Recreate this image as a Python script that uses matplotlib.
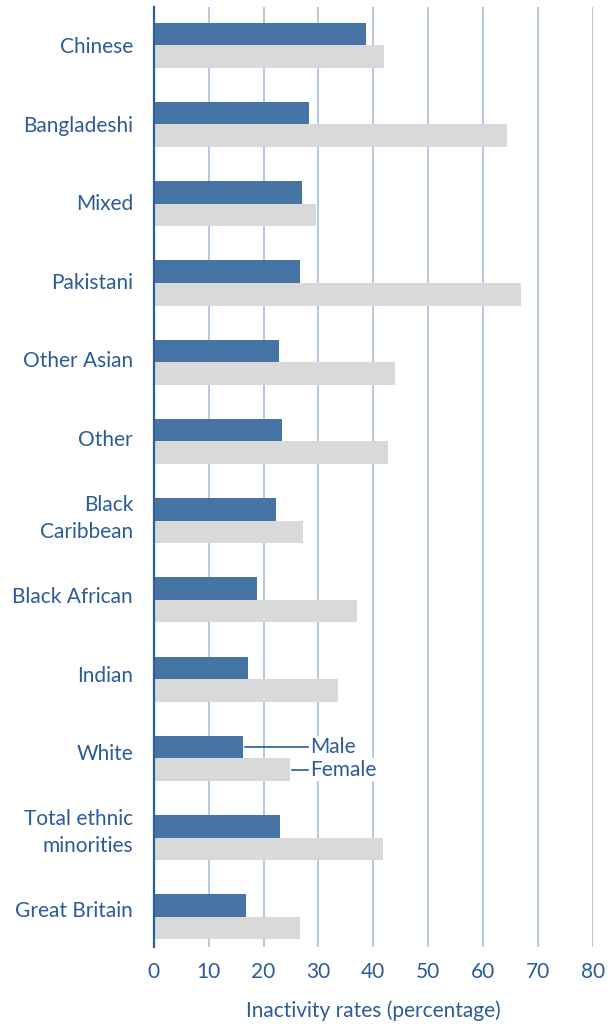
import matplotlib.pyplot as plt
import numpy as np

groups = ["Chinese", "Bangladeshi", "Mixed", "Pakistani", "Other Asian", "Other",
          "Black\nCaribbean", "Black African", "Indian", "White",
          "Total ethnic\nminorities", "Great Britain"]
male = [38.6, 28.2, 27.0, 26.6, 22.8, 23.3, 22.2, 18.8, 17.1, 16.3, 23.0, 16.8]
female = [41.9, 64.4, 29.5, 67.0, 43.9, 42.6, 27.1, 37.0, 33.5, 24.8, 41.8, 26.6]

blue = "#4674a5"
grey = "#d9d9d9"
text_col = "#2b5c97"
grid_col = "#a9bfdb"

plt.rcParams["font.family"] = ["Lato", "DejaVu Sans"]

fig = plt.figure(figsize=(6.13, 10.27), dpi=100)
ax = fig.add_axes([0.251, 0.078, 0.716, 0.915])

# top group at top
y = np.arange(len(groups))[::-1].astype(float)
h = 0.285
ax.barh(y + h / 2, male, height=h, color=blue, zorder=3)
ax.barh(y - h / 2, female, height=h, color=grey, zorder=3)

ax.set_xlim(0, 80)
ax.set_ylim(-0.38, len(groups) - 1 + 0.48)
ax.set_xticks(np.arange(0, 81, 10))
ax.set_yticks(y)
ax.set_yticklabels([])
ax.tick_params(axis="y", length=0)
ax.tick_params(axis="x", length=0, pad=11, labelsize=15, labelcolor=text_col)

# category labels, drifting slightly upward toward the bottom like the original
for i, (yy, g) in enumerate(zip(y, groups)):
    ax.annotate(g, xy=(0, yy), xycoords=("axes fraction", "data"),
                xytext=(-15, -1.5 + 0.5 * i), textcoords="offset points",
                ha="right", va="center", fontsize=15, color=text_col,
                linespacing=1.45)

ax.grid(axis="x", color=grid_col, linewidth=1.2, zorder=0)
ax.grid(axis="y", visible=False)
for s in ["top", "right", "bottom"]:
    ax.spines[s].set_visible(False)
ax.spines["left"].set_color("#2f5f98")
ax.spines["left"].set_linewidth(1.6)
ax.spines["left"].set_zorder(4)

ax.set_xlabel("Inactivity rates (percentage)", fontsize=15, color=text_col, labelpad=13)

# Male / Female labels on White bars
wi = groups.index("White")
tx = 28.1
ax.plot([male[wi] + 0.3, tx], [y[wi] + h / 2] * 2, color=text_col, lw=1.2, zorder=5)
ax.plot([female[wi] + 0.4, tx], [y[wi] - h / 2] * 2, color=text_col, lw=1.2, zorder=5)
ax.text(tx + 0.4, y[wi] + h / 2, "Male", va="center", ha="left", fontsize=15,
        color=text_col, zorder=5,
        bbox=dict(facecolor="white", edgecolor="none", pad=1))
ax.text(tx + 0.4, y[wi] - h / 2, "Female", va="center", ha="left", fontsize=15,
        color=text_col, zorder=5,
        bbox=dict(facecolor="white", edgecolor="none", pad=1))

fig.savefig("out.png", dpi=100)
